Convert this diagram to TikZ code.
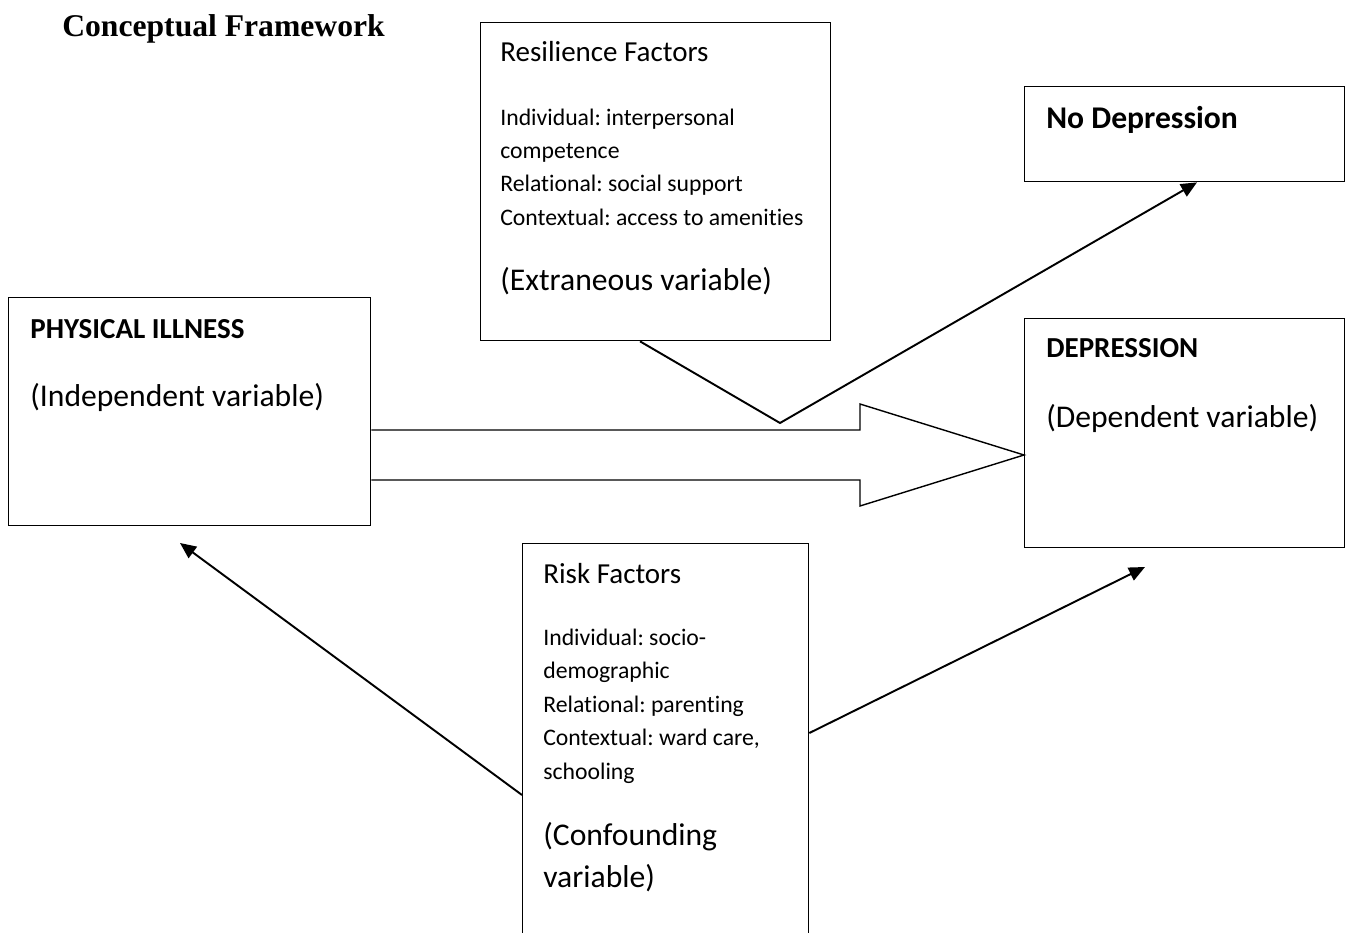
\documentclass[tikz,border=0pt]{standalone}
\usepackage{fontspec}
\setmainfont{Carlito}[Ligatures=NoCommon]
\newfontfamily\titlefont{Liberation Serif}
\usetikzlibrary{arrows.meta}
\frenchspacing

\begin{document}
\begin{tikzpicture}[
    x=0.02cm, y=-0.02cm,
    box/.style={draw, line width=0.8pt, inner sep=0pt, anchor=north west},
    head/.style={font=\fontsize{16.5}{20}\selectfont, anchor=base west, inner sep=0pt},
    headb/.style={head, font=\fontsize{16.5}{20}\selectfont\bfseries},
    big/.style={font=\fontsize{18}{22}\selectfont, anchor=base west, inner sep=0pt},
    bigb/.style={big, font=\fontsize{18}{22}\selectfont\bfseries},
    small/.style={font=\fontsize{13.5}{19}\selectfont, anchor=base west, inner sep=0pt},
    link/.style={line width=1.1pt},
    arr/.style={link, -{Triangle[length=0.32cm, width=0.28cm]}},
    hollow/.style={draw, line width=0.8pt, line join=miter},
]
\clip (0,0) rectangle (1350,933);

% ---------------------------------------------------------------------------
% title
% ---------------------------------------------------------------------------
\node[anchor=base west, inner sep=0pt, font=\titlefont\fontsize{18}{22}\selectfont\bfseries]
      (title) at (62,36) {Conceptual Framework};

% ---------------------------------------------------------------------------
% boxes
% ---------------------------------------------------------------------------
\node[box, minimum width=7.24cm, minimum height=4.56cm] (ill)   at (8,297)   {};
\node[box, minimum width=7.00cm, minimum height=6.36cm] (res)   at (480,22)  {};
\node[box, minimum width=6.40cm, minimum height=1.90cm] (nodep) at (1024,86) {};
\node[box, minimum width=6.40cm, minimum height=4.58cm] (dep)   at (1024,318) {};
\node[box, minimum width=5.72cm, minimum height=8.40cm] (risk)  at (522,543) {};

% ----- independent -----
\node[headb] (ill-t) at (30,338) {PHYSICAL ILLNESS};
\node[big]   (ill-v) at (30,406) {(Independent variable)};

% ----- resilience -----
\node[head] (res-t) at (500,61) {Resilience Factors};
\foreach \y/\t [count=\n] in {125/{Individual: interpersonal}, 158/competence,
        191/{Relational: social support}, 225/{Contextual: access to amenities}} {
    \node[small] (res-\n) at (500,\y) {\t};
}
\node[big] (res-v) at (500,290) {(Extraneous variable)};

% ----- outcomes -----
\node[bigb]  (nodep-t) at (1046,128) {No Depression};
\node[headb] (dep-t)   at (1046,357) {DEPRESSION};
\node[big]   (dep-v)   at (1046,427) {(Dependent variable)};

% ----- risk -----
\node[head] (risk-t) at (543,583) {Risk Factors};
\foreach \y/\t [count=\n] in {645/{Individual: socio-}, 678/demographic,
        712/{Relational: parenting}, 745/{Contextual: ward care,}, 779/schooling} {
    \node[small] (risk-\n) at (543,\y) {\t};
}
\node[big] (risk-v1) at (543,845) {(Confounding};
\node[big] (risk-v2) at (543,887) {variable)};

% ---------------------------------------------------------------------------
% connectors
% ---------------------------------------------------------------------------
\draw[hollow] (ill.east |- 0,430) -- (860,430) -- (860,404) -- (dep.west |- 0,455)
      -- (860,506) -- (860,480) -- (ill.east |- 0,480);

\coordinate (vtip) at (780,423);
\draw[arr] (res.south -| 640,0) -- (vtip) -- (nodep.south -| 1197,0);

\coordinate (illend) at (180,543);
\coordinate (depend) at (1145,567);
\draw[arr] (risk.west |- 0,795) -- (illend);
\draw[arr] (risk.east |- 0,733) -- (depend);

\end{tikzpicture}
\end{document}
